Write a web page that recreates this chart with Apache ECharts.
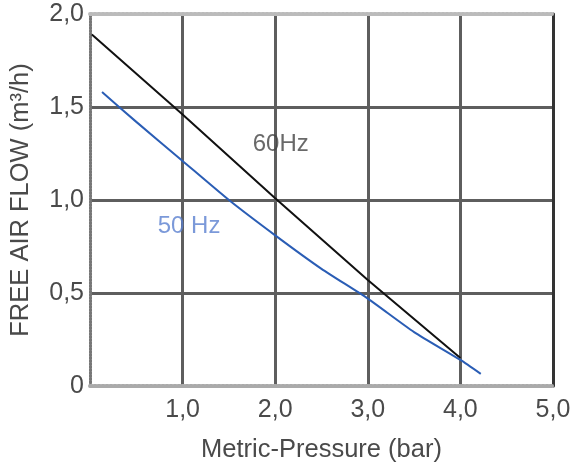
<!DOCTYPE html>
<html>
<head>
<meta charset="utf-8">
<script src="https://cdn.jsdelivr.net/npm/echarts@6/dist/echarts.min.js"></script>
<style>
html,body{margin:0;padding:0;background:#fff;}
#chart{width:575px;height:468px;}
</style>
</head>
<body>
<div id="chart"></div>
<script>
// Data
var xTicks = [0, 1, 2, 3, 4, 5];
var yTicks = [0, 0.5, 1.0, 1.5, 2.0];
var hz60 = [[0.02, 1.89], [1.0, 1.46], [2.0, 1.01], [3.0, 0.57], [4.0, 0.15]];
var hz50 = [[0.13, 1.58], [0.5, 1.42], [1.0, 1.21], [1.5, 1.0], [2.0, 0.81], [2.5, 0.63], [3.0, 0.47], [3.5, 0.29], [4.0, 0.14], [4.22, 0.065]];
var seriesNames = ['60Hz', '50 Hz'];
var labelPos60 = [[2.06, 1.30]];
var labelPos50 = [[1.07, 0.86]];
var xTitle = 'Metric-Pressure (bar)';
var yTitle = 'FREE AIR FLOW (m\u00B3/h)';

var FONT = 'Liberation Sans, Arial, sans-serif';
function fmt(v) {
  if (v === 0) return '0';
  return v.toFixed(1).replace('.', ',');
}
var chart = echarts.init(document.getElementById('chart'));
chart.setOption({
  animation: false,
  backgroundColor: '#fff',
  grid: { left: 88, right: 22, top: 14, bottom: 81, containLabel: false },
  xAxis: [{
    type: 'value', min: 0, max: 5, interval: 1, position: 'bottom',
    axisLine: { show: true, onZero: false, lineStyle: { color: '#aaa', width: 4, type: [2, 2] } },
    axisTick: { show: false },
    axisLabel: { margin: 12, color: '#4a4a4a', fontSize: 25, fontFamily: FONT,
      formatter: function (v) { return v === 0 ? '' : fmt(v); } },
    splitLine: { show: true, showMinLine: false, showMaxLine: false,
      lineStyle: { color: '#5e5e5e', width: 3 } },
    name: xTitle, nameLocation: 'middle', nameGap: 51,
    nameTextStyle: { color: '#4a4a4a', fontSize: 25.5, fontFamily: FONT }
  }, {
    type: 'value', min: 0, max: 5, interval: 1, position: 'top',
    axisLine: { show: true, onZero: false, lineStyle: { color: '#bbb', width: 4, type: [2, 2] } },
    axisTick: { show: false }, axisLabel: { show: false }, splitLine: { show: false }
  }],
  yAxis: [{
    type: 'value', min: 0, max: 2, interval: 0.5, position: 'left',
    axisLine: { show: true, onZero: false, lineStyle: { color: '#777', width: 3, type: [2, 1] } },
    axisTick: { show: false },
    axisLabel: { margin: 6, color: '#4a4a4a', fontSize: 25, fontFamily: FONT, formatter: fmt },
    splitLine: { show: true, showMinLine: false, showMaxLine: false,
      lineStyle: { color: '#5e5e5e', width: 3 } },
    name: yTitle, nameLocation: 'middle', nameGap: 56, nameRotate: 90,
    nameTextStyle: { color: '#4a4a4a', fontSize: 25.5, fontFamily: FONT }
  }, {
    type: 'value', min: 0, max: 2, interval: 0.5, position: 'right',
    axisLine: { show: true, onZero: false, lineStyle: { color: '#333', width: 3 } },
    axisTick: { show: false }, axisLabel: { show: false }, splitLine: { show: false }
  }],
  series: [{
    name: seriesNames[0], type: 'line', data: hz60, showSymbol: false,
    lineStyle: { color: '#111', width: 2 }, z: 3
  }, {
    name: seriesNames[1], type: 'line', data: hz50, showSymbol: false, smooth: 0.2,
    lineStyle: { color: '#2a5db5', width: 2 }, z: 3
  }, {
    type: 'scatter', data: labelPos60, symbolSize: 0, silent: true,
    label: { show: true, position: 'inside', formatter: seriesNames[0],
      color: '#444', fontSize: 24, fontFamily: FONT }
  }, {
    type: 'scatter', data: labelPos50, symbolSize: 0, silent: true,
    label: { show: true, position: 'inside', formatter: seriesNames[1],
      color: '#5a7fd0', fontSize: 24, fontFamily: FONT }
  }]
});
</script>
</body>
</html>
